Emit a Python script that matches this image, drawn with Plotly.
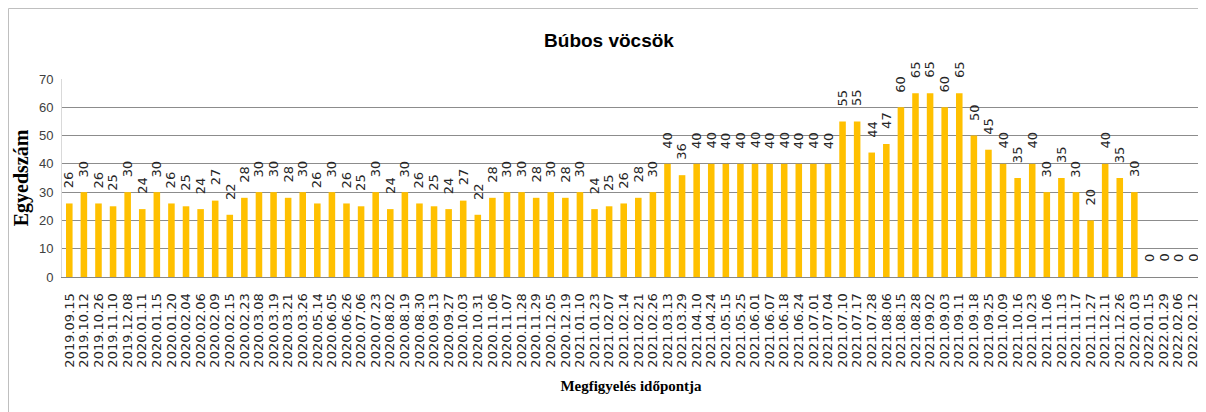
import plotly.graph_objects as go

categories = [
    "2019.09.15", "2019.10.12", "2019.10.26", "2019.11.10", "2019.12.08",
    "2020.01.11", "2020.01.15", "2020.01.20", "2020.02.04", "2020.02.06",
    "2020.02.09", "2020.02.15", "2020.02.23", "2020.03.08", "2020.03.19",
    "2020.03.21", "2020.03.26", "2020.05.14", "2020.06.05", "2020.06.26",
    "2020.07.06", "2020.07.23", "2020.08.02", "2020.08.19", "2020.08.30",
    "2020.09.13", "2020.09.27", "2020.10.03", "2020.10.31", "2020.11.06",
    "2020.11.07", "2020.11.28", "2020.11.29", "2020.12.05", "2020.12.19",
    "2021.01.10", "2021.01.23", "2021.02.07", "2021.02.14", "2021.02.21",
    "2021.02.26", "2021.03.13", "2021.03.29", "2021.04.10", "2021.04.24",
    "2021.05.15", "2021.05.25", "2021.06.01", "2021.06.07", "2021.06.18",
    "2021.06.24", "2021.07.01", "2021.07.04", "2021.07.10", "2021.07.17",
    "2021.07.28", "2021.08.06", "2021.08.15", "2021.08.28", "2021.09.02",
    "2021.09.03", "2021.09.11", "2021.09.18", "2021.09.25", "2021.10.09",
    "2021.10.16", "2021.10.23", "2021.11.06", "2021.11.13", "2021.11.17",
    "2021.11.27", "2021.12.11", "2021.12.26", "2022.01.03", "2022.01.15",
    "2022.01.29", "2022.02.06", "2022.02.12",
]

counts = [
    26, 30, 26, 25, 30, 24, 30, 26, 25, 24,
    27, 22, 28, 30, 30, 28, 30, 26, 30, 26,
    25, 30, 24, 30, 26, 25, 24, 27, 22, 28,
    30, 30, 28, 30, 28, 30, 24, 25, 26, 28,
    30, 40, 36, 40, 40, 40, 40, 40, 40, 40,
    40, 40, 40, 55, 55, 44, 47, 60, 65, 65,
    60, 65, 50, 45, 40, 35, 40, 30, 35, 30,
    20, 40, 35, 30, 0, 0, 0, 0,
]

y_ticks = [0, 10, 20, 30, 40, 50, 60, 70]

chart_title = "Búbos vöcsök"
x_title = "Megfigyelés időpontja"
y_title = "Egyedszám"

# the page places the figure 8px from the top-left corner of the window
W, H = 1198, 404
ML, MR, MT, MB = 54, 6, 71, 135
PW, PH = W - ML - MR, H - MT - MB

fig = go.Figure()
fig.add_trace(go.Bar(
    x=categories,
    y=counts,
    marker=dict(color="#FFC000", line=dict(width=0)),
    hoverinfo="x+y",
))

for c, v in zip(categories, counts):
    fig.add_annotation(
        x=c, y=v, xref="x", yref="y",
        text=str(v), textangle=-90,
        showarrow=False, yanchor="bottom", xanchor="center",
        yshift=13,
        font=dict(family="DejaVu Sans", size=13, color="#262626"),
    )

# outer chart border
fig.add_shape(
    type="rect", xref="paper", yref="paper",
    x0=(0.5 - ML) / PW, x1=(W + 10 - ML) / PW,
    y0=(-20 - MB) / PH, y1=(H - 0.5 - MB) / PH,
    line=dict(color="#BFBFBF", width=1), layer="below",
)

fig.update_layout(
    width=W, height=H,
    margin=dict(l=ML, r=MR, t=MT, b=MB, autoexpand=False),
    paper_bgcolor="white", plot_bgcolor="white",
    bargap=0.55,
    showlegend=False,
    title=dict(
        text=chart_title, x=601 / W, xanchor="center",
        y=1 - 32 / H, yanchor="middle", yref="container",
        font=dict(family="Liberation Sans", size=19, color="#000000", weight="bold"),
    ),
    xaxis=dict(
        type="category",
        tickmode="array", tickvals=categories, ticktext=categories,
        tickangle=-90,
        tickfont=dict(family="DejaVu Sans", size=13, color="#262626"),
        showgrid=False,
        showline=True, linecolor="#868686", linewidth=1,
        ticks="", ticklabelstandoff=10,
        automargin=False,
        range=[-0.5, len(categories) - 0.5],
        title=dict(text=x_title, standoff=13,
                   font=dict(family="Liberation Serif", size=15, color="#000000", weight="bold")),
    ),
    yaxis=dict(
        range=[0, 70],
        tickvals=y_ticks,
        tickfont=dict(family="Liberation Sans", size=13, color="#404040"),
        showgrid=True, gridcolor="#8C8C8C", gridwidth=1,
        showline=True, linecolor="#D9D9D9", linewidth=1,
        zeroline=False,
        ticks="", ticklabelstandoff=5,
        automargin=False,
        title=dict(text=y_title, standoff=4,
                   font=dict(family="Liberation Serif", size=20, color="#000000", weight="bold")),
    ),
)

fig.write_html("out.html")
